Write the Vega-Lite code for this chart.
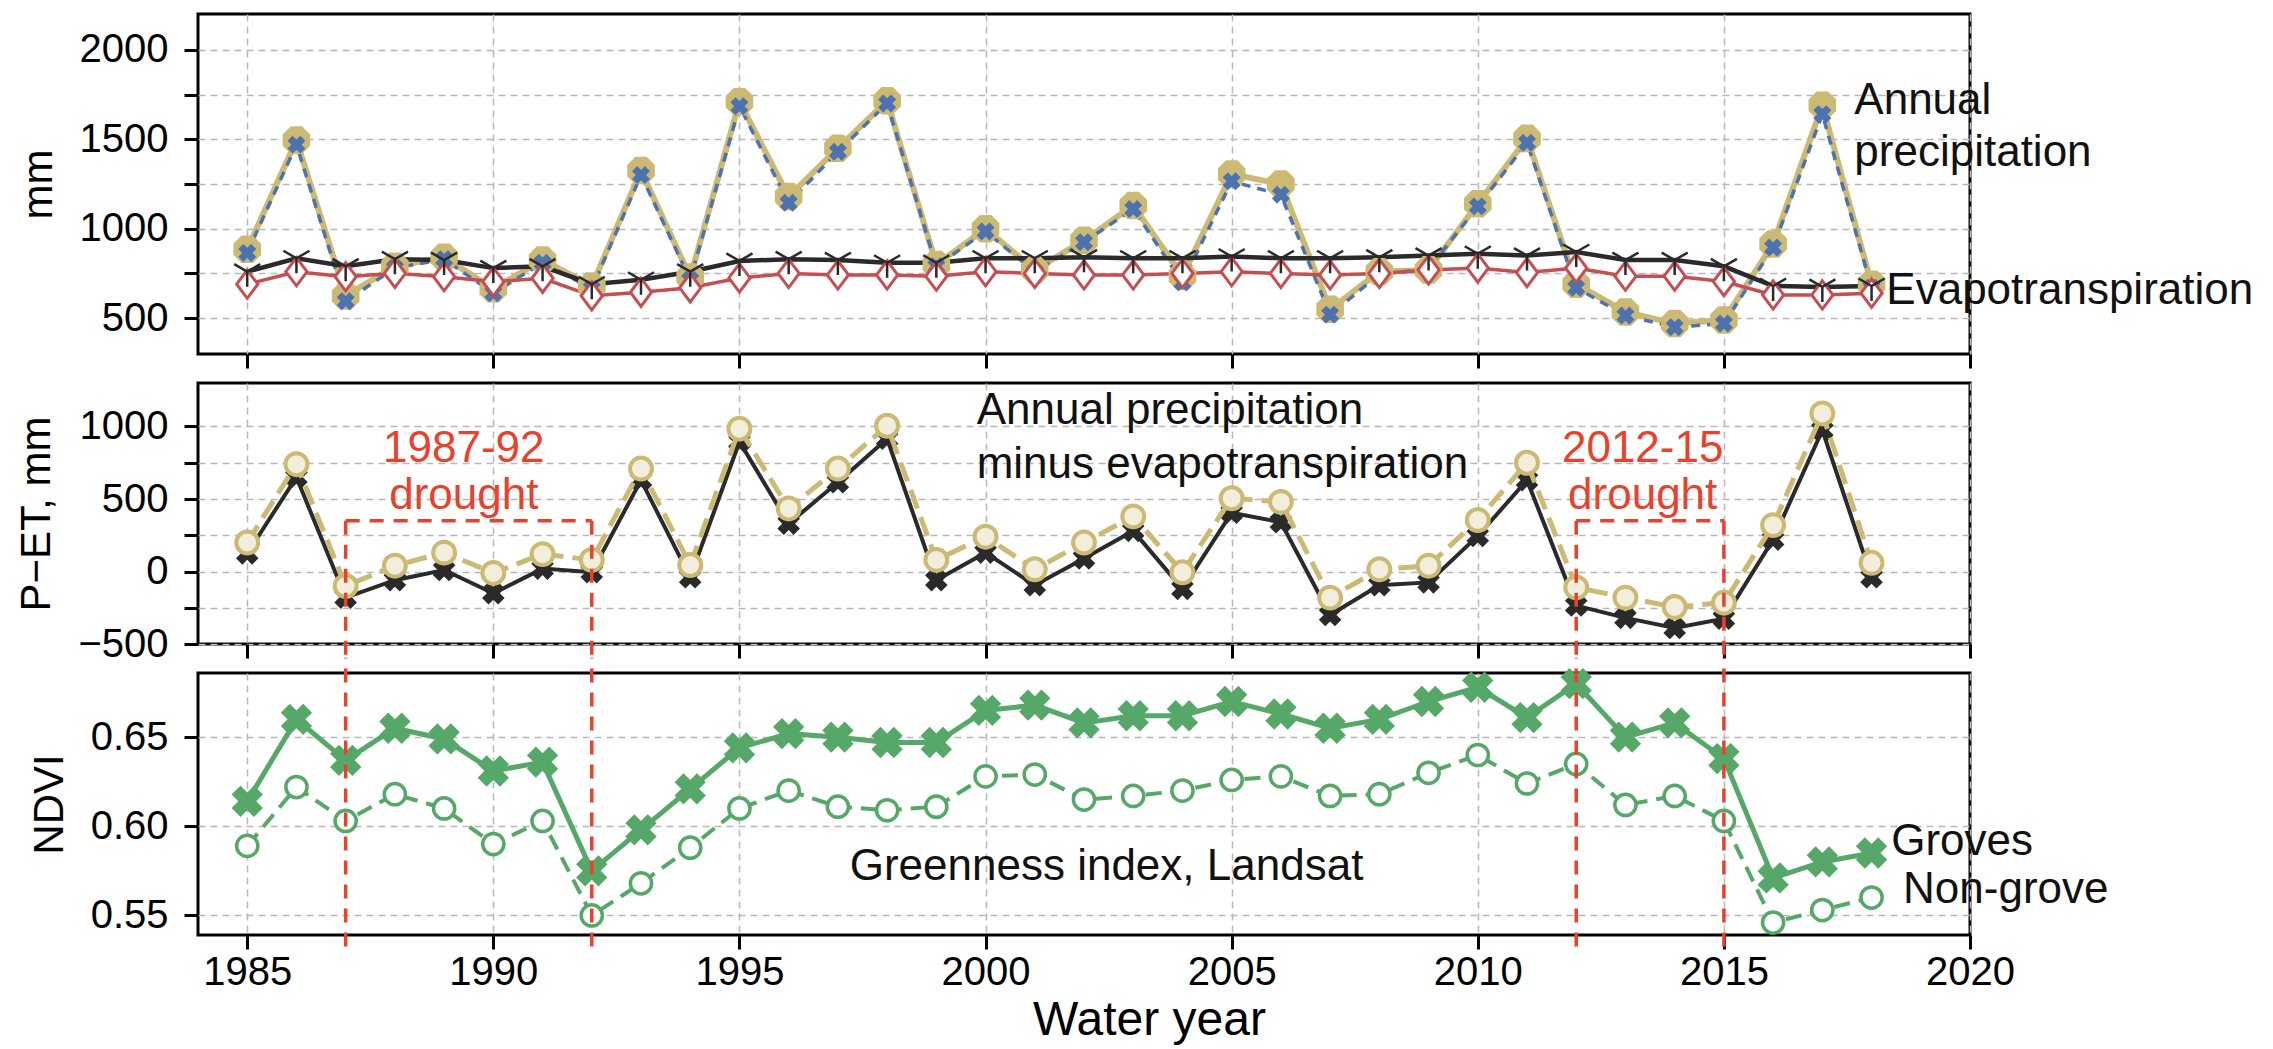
{
  "$schema": "https://vega.github.io/schema/vega-lite/v6.json",
  "background": "white",
  "padding": {"left": 14, "top": 12, "right": 0, "bottom": 0},
  "spacing": 29,
  "bounds": "flush",
  "config": {
    "font": "Liberation Sans",
    "view": {"stroke": "black", "strokeWidth": 3},
    "axis": {
      "domain": false,
      "tickColor": "black",
      "tickWidth": 3,
      "tickSize": 14,
      "labelFontSize": 40,
      "labelColor": "black",
      "labelFont": "Liberation Sans",
      "titleFont": "Liberation Sans",
      "titleFontWeight": "normal",
      "titleFontSize": 42,
      "titleColor": "black",
      "gridColor": "#b8b8b8",
      "gridDash": [7, 5],
      "gridWidth": 1.5
    },
    "axisY": {"labelPadding": 16, "titlePadding": 19},
    "axisX": {"labelPadding": 3, "labelFlush": false},
    "text": {"font": "Liberation Sans", "fontSize": 44, "align": "left", "baseline": "alphabetic", "color": "#111111", "lineBreak": "\n"}
  },
  "datasets": {
    "p1": [
      {"year": 1985, "Pa": 885, "Pb": 865, "ETa": 760, "ETb": 690},
      {"year": 1986, "Pa": 1495, "Pb": 1470, "ETa": 835, "ETb": 760},
      {"year": 1987, "Pa": 625, "Pb": 595, "ETa": 790, "ETb": 732},
      {"year": 1988, "Pa": 790, "Pb": 780, "ETa": 830, "ETb": 751},
      {"year": 1989, "Pa": 840, "Pb": 830, "ETa": 825, "ETb": 732},
      {"year": 1990, "Pa": 665, "Pb": 640, "ETa": 780, "ETb": 704},
      {"year": 1991, "Pa": 825, "Pb": 810, "ETa": 790, "ETb": 723},
      {"year": 1992, "Pa": 680, "Pb": 665, "ETa": 690, "ETb": 625},
      {"year": 1993, "Pa": 1325, "Pb": 1300, "ETa": 715, "ETb": 645},
      {"year": 1994, "Pa": 730, "Pb": 715, "ETa": 760, "ETb": 670},
      {"year": 1995, "Pa": 1710, "Pb": 1685, "ETa": 820, "ETb": 725},
      {"year": 1996, "Pa": 1180, "Pb": 1145, "ETa": 830, "ETb": 750},
      {"year": 1997, "Pa": 1450, "Pb": 1430, "ETa": 825, "ETb": 742},
      {"year": 1998, "Pa": 1715, "Pb": 1700, "ETa": 810, "ETb": 742},
      {"year": 1999, "Pa": 800, "Pb": 790, "ETa": 810, "ETb": 735},
      {"year": 2000, "Pa": 1000, "Pb": 985, "ETa": 835, "ETb": 760},
      {"year": 2001, "Pa": 770, "Pb": 760, "ETa": 835, "ETb": 750},
      {"year": 2002, "Pa": 935, "Pb": 925, "ETa": 840, "ETb": 742},
      {"year": 2003, "Pa": 1130, "Pb": 1110, "ETa": 835, "ETb": 742},
      {"year": 2004, "Pa": 735, "Pb": 700, "ETa": 835, "ETb": 750},
      {"year": 2005, "Pa": 1305, "Pb": 1265, "ETa": 845, "ETb": 760},
      {"year": 2006, "Pa": 1250, "Pb": 1190, "ETa": 835, "ETb": 750},
      {"year": 2007, "Pa": 550, "Pb": 520, "ETa": 835, "ETb": 742},
      {"year": 2008, "Pa": 760, "Pb": 745, "ETa": 840, "ETb": 750},
      {"year": 2009, "Pa": 770, "Pb": 775, "ETa": 850, "ETb": 770},
      {"year": 2010, "Pa": 1140, "Pb": 1125, "ETa": 860, "ETb": 780},
      {"year": 2011, "Pa": 1505, "Pb": 1480, "ETa": 850, "ETb": 755},
      {"year": 2012, "Pa": 690, "Pb": 670, "ETa": 870, "ETb": 780},
      {"year": 2013, "Pa": 535, "Pb": 515, "ETa": 825, "ETb": 735},
      {"year": 2014, "Pa": 470, "Pb": 450, "ETa": 825, "ETb": 735},
      {"year": 2015, "Pa": 490, "Pb": 470, "ETa": 790, "ETb": 705},
      {"year": 2016, "Pa": 915, "Pb": 895, "ETa": 680, "ETb": 630},
      {"year": 2017, "Pa": 1690, "Pb": 1640, "ETa": 675, "ETb": 630},
      {"year": 2018, "Pa": 690, "Pb": 670, "ETa": 680, "ETb": 640}
    ],
    "p2": [
      {"year": 1985, "PEa": 200, "PEb": 125},
      {"year": 1986, "PEa": 740, "PEb": 650},
      {"year": 1987, "PEa": -100, "PEb": -180},
      {"year": 1988, "PEa": 40, "PEb": -60},
      {"year": 1989, "PEa": 130, "PEb": 10},
      {"year": 1990, "PEa": -10, "PEb": -150},
      {"year": 1991, "PEa": 120, "PEb": 20},
      {"year": 1992, "PEa": 80, "PEb": -5},
      {"year": 1993, "PEa": 710, "PEb": 630},
      {"year": 1994, "PEa": 45, "PEb": -40},
      {"year": 1995, "PEa": 985, "PEb": 895},
      {"year": 1996, "PEa": 435, "PEb": 330},
      {"year": 1997, "PEa": 710, "PEb": 615},
      {"year": 1998, "PEa": 1005, "PEb": 915},
      {"year": 1999, "PEa": 80, "PEb": -60},
      {"year": 2000, "PEa": 240, "PEb": 130},
      {"year": 2001, "PEa": 15, "PEb": -95},
      {"year": 2002, "PEa": 200, "PEb": 90},
      {"year": 2003, "PEa": 380, "PEb": 280},
      {"year": 2004, "PEa": -5, "PEb": -120},
      {"year": 2005, "PEa": 505, "PEb": 405},
      {"year": 2006, "PEa": 480, "PEb": 340},
      {"year": 2007, "PEa": -180, "PEb": -300},
      {"year": 2008, "PEa": 15, "PEb": -95},
      {"year": 2009, "PEa": 40, "PEb": -75},
      {"year": 2010, "PEa": 355, "PEb": 245},
      {"year": 2011, "PEa": 750, "PEb": 630},
      {"year": 2012, "PEa": -110, "PEb": -235},
      {"year": 2013, "PEa": -180, "PEb": -320},
      {"year": 2014, "PEa": -245, "PEb": -390},
      {"year": 2015, "PEa": -215, "PEb": -325},
      {"year": 2016, "PEa": 320, "PEb": 220},
      {"year": 2017, "PEa": 1090, "PEb": 975},
      {"year": 2018, "PEa": 60, "PEb": -40}
    ],
    "p3": [
      {"year": 1985, "G": 0.614, "N": 0.589},
      {"year": 1986, "G": 0.660, "N": 0.622},
      {"year": 1987, "G": 0.637, "N": 0.603},
      {"year": 1988, "G": 0.655, "N": 0.618},
      {"year": 1989, "G": 0.649, "N": 0.610},
      {"year": 1990, "G": 0.631, "N": 0.590},
      {"year": 1991, "G": 0.636, "N": 0.603},
      {"year": 1992, "G": 0.575, "N": 0.550},
      {"year": 1993, "G": 0.598, "N": 0.568},
      {"year": 1994, "G": 0.621, "N": 0.588},
      {"year": 1995, "G": 0.644, "N": 0.610},
      {"year": 1996, "G": 0.652, "N": 0.620},
      {"year": 1997, "G": 0.650, "N": 0.611},
      {"year": 1998, "G": 0.647, "N": 0.609},
      {"year": 1999, "G": 0.647, "N": 0.611},
      {"year": 2000, "G": 0.665, "N": 0.628},
      {"year": 2001, "G": 0.668, "N": 0.629},
      {"year": 2002, "G": 0.658, "N": 0.615},
      {"year": 2003, "G": 0.662, "N": 0.617},
      {"year": 2004, "G": 0.662, "N": 0.620},
      {"year": 2005, "G": 0.670, "N": 0.626},
      {"year": 2006, "G": 0.663, "N": 0.628},
      {"year": 2007, "G": 0.655, "N": 0.617},
      {"year": 2008, "G": 0.660, "N": 0.618},
      {"year": 2009, "G": 0.670, "N": 0.630},
      {"year": 2010, "G": 0.678, "N": 0.640},
      {"year": 2011, "G": 0.661, "N": 0.624},
      {"year": 2012, "G": 0.680, "N": 0.635},
      {"year": 2013, "G": 0.650, "N": 0.612},
      {"year": 2014, "G": 0.658, "N": 0.617},
      {"year": 2015, "G": 0.638, "N": 0.603},
      {"year": 2016, "G": 0.571, "N": 0.546},
      {"year": 2017, "G": 0.580, "N": 0.553},
      {"year": 2018, "G": 0.585, "N": 0.560}
    ],
    "t1": [
      {"year": 2017.65, "v": 1641, "t": "Annual\nprecipitation"},
      {"year": 2018.3, "v": 579, "t": "Evapotranspiration"}
    ],
    "t2": [
      {"year": 1999.82, "v": 1017, "t": "Annual precipitation\nminus evapotranspiration"}
    ],
    "t2r": [
      {"year": 1989.4, "v": 755, "t": "1987-92\ndrought"},
      {"year": 2013.35, "v": 755, "t": "2012-15\ndrought"}
    ],
    "r2": [
      {"year": 1987, "year2": 1992, "v": 350, "v2": 350},
      {"year": 1987, "year2": 1987, "v": 350, "v2": -605},
      {"year": 1992, "year2": 1992, "v": 350, "v2": -605},
      {"year": 2012, "year2": 2015, "v": 350, "v2": 350},
      {"year": 2012, "year2": 2012, "v": 350, "v2": -605},
      {"year": 2015, "year2": 2015, "v": 350, "v2": -605}
    ],
    "r3": [
      {"year": 1987, "v": 0.5325, "v2": 0.6945},
      {"year": 1992, "v": 0.5325, "v2": 0.6945},
      {"year": 2012, "v": 0.5325, "v2": 0.6945},
      {"year": 2015, "v": 0.5325, "v2": 0.6945}
    ],
    "t3": [
      {"year": 1997.24, "v": 0.5699, "t": "Greenness index, Landsat"},
      {"year": 2018.4, "v": 0.5839, "t": "Groves"},
      {"year": 2018.64, "v": 0.557, "t": "Non-grove"}
    ]
  },
  "vconcat": [
    {
      "width": 1772,
      "height": 340,
      "data": {"name": "p1"},
      "encoding": {
        "x": {"field": "year", "type": "quantitative", "scale": {"domain": [1984, 2020], "nice": false, "zero": false}, "axis": {"values": [1985, 1990, 1995, 2000, 2005, 2010, 2015, 2020], "labels": false, "title": null, "grid": true}},
        "y": {"field": "v", "type": "quantitative", "scale": {"domain": [300, 2200], "nice": false, "zero": false}, "axis": {"values": [500, 750, 1000, 1250, 1500, 1750, 2000], "format": "d", "labelExpr": "datum.value % 500 === 0 ? datum.label : ''", "title": "mm", "grid": true}}
      },
      "layer": [
        {"transform": [{"fold": ["Pa"], "as": ["k", "v"]}], "mark": {"type": "line", "color": "#ccb974", "strokeWidth": 6}},
        {"transform": [{"fold": ["Pb"], "as": ["k", "v"]}], "mark": {"type": "line", "color": "#4c72b0", "strokeWidth": 3.5, "strokeDash": [9, 7]}},
        {"transform": [{"fold": ["ETb"], "as": ["k", "v"]}], "mark": {"type": "line", "color": "#c44e52", "strokeWidth": 3.5}},
        {"transform": [{"fold": ["ETa"], "as": ["k", "v"]}], "mark": {"type": "line", "color": "#2a2a2a", "strokeWidth": 4.5}},
        {"transform": [{"fold": ["Pa"], "as": ["k", "v"]}], "mark": {"type": "point", "shape": "M-0.41,-1L0.41,-1L1,-0.41L1,0.41L0.41,1L-0.41,1L-1,0.41L-1,-0.41Z", "filled": true, "color": "#ccb974", "opacity": 1, "size": 760}},
        {"transform": [{"fold": ["Pb"], "as": ["k", "v"]}], "mark": {"type": "point", "shape": "cross", "angle": 45, "filled": true, "color": "#4c72b0", "opacity": 1, "size": 330}},
        {"transform": [{"fold": ["ETb"], "as": ["k", "v"]}], "mark": {"type": "point", "shape": "M0,-1L0.75,0L0,1L-0.75,0Z", "filled": false, "fill": "white", "fillOpacity": 1, "stroke": "#c44e52", "strokeWidth": 3, "opacity": 1, "size": 800}},
        {"transform": [{"fold": ["ETa"], "as": ["k", "v"]}], "mark": {"type": "point", "shape": "M0,0L0,1M0,0L-0.87,-0.5M0,0L0.87,-0.5", "filled": false, "stroke": "#2a2a2a", "strokeWidth": 2.5, "opacity": 1, "size": 900}},
        {"data": {"name": "t1"}, "mark": {"type": "text", "lineHeight": 52}, "encoding": {"text": {"field": "t"}}}
      ]
    },
    {
      "width": 1772,
      "height": 261,
      "data": {"name": "p2"},
      "encoding": {
        "x": {"field": "year", "type": "quantitative", "scale": {"domain": [1984, 2020], "nice": false, "zero": false}, "axis": {"values": [1985, 1990, 1995, 2000, 2005, 2010, 2015, 2020], "labels": false, "title": null, "grid": true}},
        "y": {"field": "v", "type": "quantitative", "scale": {"domain": [-500, 1300], "nice": false, "zero": false}, "axis": {"values": [-500, -250, 0, 250, 500, 750, 1000], "format": "d", "labelExpr": "datum.value % 500 === 0 ? datum.label : ''", "title": "P\u2212ET, mm", "grid": true}}
      },
      "layer": [
        {"mark": {"type": "rule", "color": "#555555", "strokeWidth": 3, "strokeDash": [3, 5]}, "encoding": {"y": {"datum": 0}}},
        {"transform": [{"fold": ["PEb"], "as": ["k", "v"]}], "mark": {"type": "line", "color": "#2a2a2a", "strokeWidth": 4}},
        {"transform": [{"fold": ["PEb"], "as": ["k", "v"]}], "mark": {"type": "point", "shape": "cross", "angle": 45, "filled": true, "color": "#2a2a2a", "opacity": 1, "size": 520}},
        {"transform": [{"fold": ["PEa"], "as": ["k", "v"]}], "mark": {"type": "line", "color": "#ccb974", "strokeWidth": 5, "strokeDash": [20, 9]}},
        {"transform": [{"fold": ["PEa"], "as": ["k", "v"]}], "mark": {"type": "point", "shape": "circle", "filled": false, "fill": "#f2eedb", "fillOpacity": 1, "stroke": "#ccb974", "strokeWidth": 4, "opacity": 1, "size": 480}},
        {"data": {"name": "r2"}, "mark": {"type": "rule", "color": "#e8412c", "strokeWidth": 3.5, "strokeDash": [14, 10]}, "encoding": {"x2": {"field": "year2"}, "y2": {"field": "v2"}}},
        {"data": {"name": "t2"}, "mark": {"type": "text", "lineHeight": 54}, "encoding": {"text": {"field": "t"}}},
        {"data": {"name": "t2r"}, "mark": {"type": "text", "align": "center", "fontSize": 44, "lineHeight": 47, "color": "#e8412c"}, "encoding": {"text": {"field": "t"}}}
      ]
    },
    {
      "width": 1772,
      "height": 262,
      "data": {"name": "p3"},
      "encoding": {
        "x": {"field": "year", "type": "quantitative", "scale": {"domain": [1984, 2020], "nice": false, "zero": false}, "axis": {"values": [1985, 1990, 1995, 2000, 2005, 2010, 2015, 2020], "format": "d", "title": "Water year", "titleFontSize": 48, "titleX": 951, "titleY": 99, "titleBaseline": "alphabetic", "grid": true}},
        "y": {"field": "v", "type": "quantitative", "scale": {"domain": [0.539, 0.686], "nice": false, "zero": false}, "axis": {"values": [0.55, 0.6, 0.65], "format": ".2f", "title": "NDVI", "grid": true}}
      },
      "layer": [
        {"transform": [{"fold": ["N"], "as": ["k", "v"]}], "mark": {"type": "line", "color": "#55a868", "strokeWidth": 4, "strokeDash": [16, 9]}},
        {"transform": [{"fold": ["N"], "as": ["k", "v"]}], "mark": {"type": "point", "shape": "circle", "filled": false, "fill": "white", "fillOpacity": 1, "stroke": "#55a868", "strokeWidth": 3.5, "opacity": 1, "size": 450}},
        {"transform": [{"fold": ["G"], "as": ["k", "v"]}], "mark": {"type": "line", "color": "#55a868", "strokeWidth": 5}},
        {"transform": [{"fold": ["G"], "as": ["k", "v"]}], "mark": {"type": "point", "shape": "cross", "angle": 45, "filled": true, "color": "#55a868", "opacity": 1, "size": 1000}},
        {"data": {"name": "r3"}, "mark": {"type": "rule", "color": "#e8412c", "strokeWidth": 3.5, "strokeDash": [14, 10]}, "encoding": {"y2": {"field": "v2"}}},
        {"data": {"name": "t3"}, "mark": {"type": "text"}, "encoding": {"text": {"field": "t"}}}
      ]
    }
  ]
}
